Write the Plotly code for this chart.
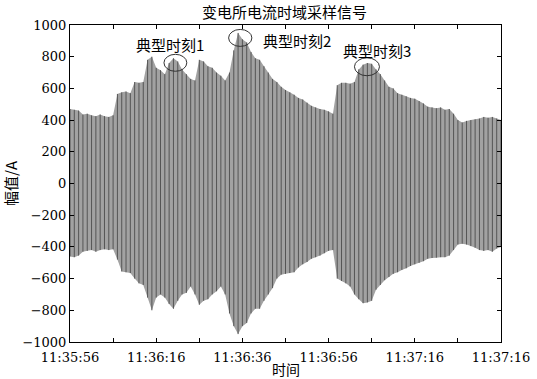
import plotly.graph_objects as go

# time in seconds after 11:35:56, one peak/trough pair per second
t_sec = list(range(0, 101))
upper_env = [470, 465, 460, 435, 440, 430, 425, 435, 425, 420,
             430, 565, 575, 580, 570, 640, 635, 640, 780, 800,
             730, 715, 690, 760, 790, 770, 720, 690, 660, 650,
             780, 770, 740, 730, 700, 680, 650, 700, 840, 950,
             910, 890, 830, 790, 780, 740, 700, 660, 640, 610,
             590, 575, 560, 540, 530, 510, 490, 480, 470, 465,
             455, 440, 620, 635, 635, 630, 640, 720, 750, 760,
             755, 720, 690, 650, 610, 600, 570, 560, 550, 540,
             535, 520, 505, 485, 480, 475, 480, 465, 470, 440,
             400, 385, 395, 400, 405, 410, 420, 415, 420, 410, 400]
lower_env = [-460, -465, -455, -430, -425, -420, -430, -420, -415, -420,
             -415, -480, -555, -560, -565, -600, -630, -640, -720, -800,
             -720, -700, -720, -760, -790, -740, -700, -690, -650, -700,
             -765, -740, -730, -700, -680, -650, -700, -820, -900, -950,
             -900, -880, -820, -790, -790, -740, -700, -660, -600, -575,
             -570, -565, -560, -530, -510, -495, -475, -465, -455, -440,
             -425, -420, -600, -615, -630, -650, -700, -730, -755, -750,
             -740, -670, -640, -610, -590, -570, -560, -545, -535, -520,
             -510, -500, -490, -475, -470, -468, -465, -465, -455, -420,
             -385, -380, -385, -395, -405, -420, -425, -420, -430, -410, -400]

tick_vals = [0, 10, 20, 30, 40, 50, 60, 70, 80, 90, 100]
tick_text = ["11:35:56", "", "11:36:16", "", "11:36:36", "", "11:36:56", "",
             "11:37:16", "", "11:37:16"]
y_ticks = [-1000, -800, -600, -400, -200, 0, 200, 400, 600, 800, 1000]

labels = ["典型时刻1", "典型时刻2", "典型时刻3"]
label_t = [23.3, 52.6, 71.3]
label_y = [880, 905, 836]
ell_t = [(21.8, 27.1), (36.8, 42.2), (66.0, 71.8)]
ell_y = [(708, 815), (865, 972), (680, 793)]

CJK = "Noto Sans CJK SC"
NUM = "DejaVu Serif"

fig = go.Figure()

# envelope fill
fig.add_trace(go.Scatter(
    x=t_sec + t_sec[::-1], y=upper_env + lower_env[::-1],
    fill="toself", fillcolor="#a2a2a2", mode="none",
    hoverinfo="skip", showlegend=False))

# vertical oscillation strokes
vx, vy = [], []
for t, u, l in zip(t_sec, upper_env, lower_env):
    vx += [t, t, None]
    vy += [u, l, None]
fig.add_trace(go.Scatter(x=vx, y=vy, mode="lines",
                         line=dict(color="#555555", width=1),
                         hoverinfo="skip", showlegend=False))

for (x0, x1), (y0, y1) in zip(ell_t, ell_y):
    fig.add_shape(type="circle", xref="x", yref="y", x0=x0, x1=x1, y0=y0, y1=y1,
                  line=dict(color="#333333", width=1))

for txt, tx, ty in zip(labels, label_t, label_y):
    fig.add_annotation(x=tx, y=ty, text=txt, showarrow=False,
                       font=dict(family=CJK, size=15, color="black"))

# x-axis title
fig.add_annotation(x=0.5, y=-0.084, xref="paper", yref="paper", text="时间",
                   showarrow=False, yanchor="middle",
                   font=dict(family=CJK, size=14, color="black"))

fig.update_layout(
    width=537, height=379,
    margin=dict(l=70, r=36, t=25, b=37),
    plot_bgcolor="white", paper_bgcolor="white",
    title=dict(text="变电所电流时域采样信号", x=0.53, xanchor="center",
               y=0.98, yanchor="top",
               font=dict(family=CJK, size=15, color="black")),
)
fig.update_xaxes(range=[0, 100], tickmode="array", tickvals=tick_vals,
                 ticktext=tick_text, ticks="inside", ticklen=4,
                 tickcolor="black", showline=True, linecolor="black",
                 linewidth=1, mirror="ticks", showgrid=False, zeroline=False,
                 ticklabelstandoff=3, automargin=False,
                 tickfont=dict(family=NUM, size=13, color="black"))
fig.update_yaxes(range=[-1000, 1000], tickmode="array", tickvals=y_ticks,
                 ticks="inside", ticklen=4, tickcolor="black",
                 showline=True, linecolor="black", linewidth=1, mirror="ticks",
                 showgrid=False, zeroline=False, automargin=False,
                 tickfont=dict(family=NUM, size=13, color="black"),
                 title=dict(text="幅值/A", font=dict(family=CJK, size=15, color="black"),
                            standoff=2))

fig.write_html("out.html")
